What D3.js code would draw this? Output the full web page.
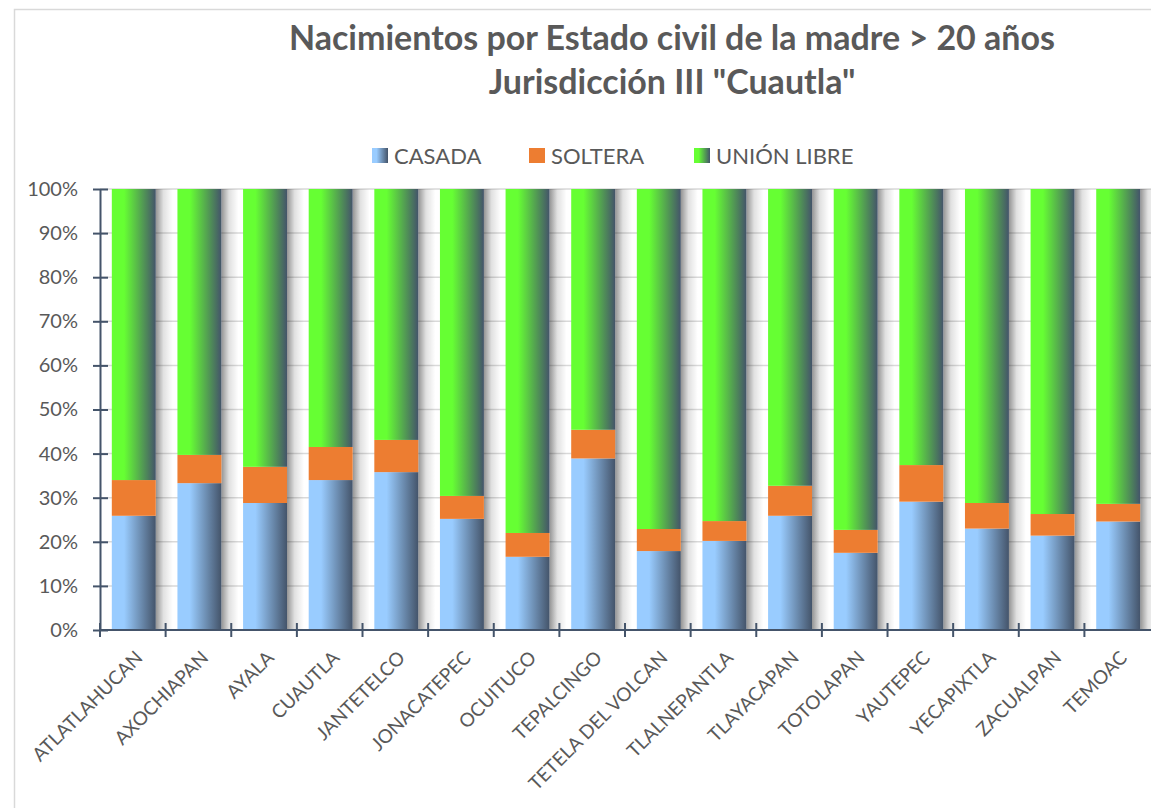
<!DOCTYPE html>
<html>
<head>
<meta charset="utf-8">
<script src="https://cdn.jsdelivr.net/npm/d3@7"></script>
<style>
	body { margin: 0; background: #fff; }
	text { font-family: Lato, "Open Sans", sans-serif; fill: #595959; }
</style>
</head>
<body>
<svg id="chart"></svg>
<script>
const W = 1151;
const H = 808;

// municipios de la Jurisdiccion III
const municipios = ["ATLATLAHUCAN", "AXOCHIAPAN", "AYALA", "CUAUTLA", "JANTETELCO", "JONACATEPEC", "OCUITUCO",
	"TEPALCINGO", "TETELA DEL VOLCAN", "TLALNEPANTLA", "TLAYACAPAN", "TOTOLAPAN", "YAUTEPEC", "YECAPIXTLA",
	"ZACUALPAN", "TEMOAC"];
// porcentajes
const casada     = [25.9, 33.3, 28.8, 34.0, 35.8, 25.2, 16.6, 38.9, 17.9, 20.2, 25.9, 17.5, 29.1, 23.0, 21.4, 24.6];
const soltera    = [ 8.1,  6.4,  8.2,  7.5,  7.3,  5.2,  5.4,  6.5,  5.0,  4.5,  6.8,  5.2,  8.3,  5.8,  4.9,  4.0];
const unionLibre = [66.0, 60.3, 63.0, 58.5, 56.9, 69.6, 78.0, 54.6, 77.1, 75.3, 67.3, 77.3, 62.6, 71.2, 73.7, 71.4];
const serieNombres = ["CASADA", "SOLTERA", "UNIÓN LIBRE"];
const yTicks = [0, 0.1, 0.2, 0.3, 0.4, 0.5, 0.6, 0.7, 0.8, 0.9, 1];
const titulo = ["Nacimientos por Estado civil de la madre > 20 años", "Jurisdicción III \"Cuautla\""];

const margin = { left: 100, right: -1, top: 189, bottom: 178 };
const axisColor = "#44546a";

let svg = d3.select( "#chart" ).attr( "width", W ).attr( "height", H );

// gradientes estilo excel
let defs = svg.append( "defs" );
function gradiente(id, c1, c2) {
	let g = defs.append( "linearGradient" ).attr( "id", id ).attr( "x1", 0 ).attr( "x2", 1 ).attr( "y1", 0 ).attr( "y2", 0 );
	g.append( "stop" ).attr( "offset", 0 ).attr( "stop-color", c1 );
	g.append( "stop" ).attr( "offset", 0.28 ).attr( "stop-color", c1 );
	g.append( "stop" ).attr( "offset", 1 ).attr( "stop-color", c2 );
}
gradiente( "gCasada", "#99ccff", axisColor );
gradiente( "gUnion", "#66ff33", axisColor );
let sg = defs.append( "linearGradient" ).attr( "id", "gSombra" ).attr( "x1", 0 ).attr( "x2", 1 );
sg.append( "stop" ).attr( "offset", 0 ).attr( "stop-color", "#000" ).attr( "stop-opacity", 0.42 );
sg.append( "stop" ).attr( "offset", 0.45 ).attr( "stop-color", "#000" ).attr( "stop-opacity", 0.12 );
sg.append( "stop" ).attr( "offset", 1 ).attr( "stop-color", "#000" ).attr( "stop-opacity", 0 );
const fills = ["url(#gCasada)", "#ed7d31", "url(#gUnion)"];

// marco del area de grafico
svg.append( "rect" )
	.attr( "x", 14.5 ).attr( "y", 9.5 ).attr( "width", W ).attr( "height", H )
	.attr( "fill", "none" ).attr( "stroke", "#d9d9d9" ).attr( "stroke-width", 1.5 );

// titulo
svg.selectAll( "text.titulo" ).data( titulo ).enter().append( "text" )
	.attr( "class", "titulo" )
	.attr( "x", 672 )
	.attr( "y", (d, i) => 50 + i * 44 )
	.attr( "text-anchor", "middle" )
	.style( "font-size", "34px" )
	.style( "font-weight", "bold" )
	.text( d => d );

let x = d3.scaleBand().domain( municipios ).range( [margin.left, W - margin.right] ).paddingInner( 0.33 ).paddingOuter( 0.18 );
let y = d3.scaleLinear().domain( [0, 1] ).range( [H - margin.bottom, margin.top] );

let tabla = municipios.map( (m, i) => ({ municipio: m, c: casada[i], s: soltera[i], u: unionLibre[i] }) );
let series = d3.stack().keys( ["c", "s", "u"] ).offset( d3.stackOffsetExpand )( tabla );

// lineas de division
svg.append( "g" ).selectAll( "line" ).data( yTicks.slice(1) ).enter().append( "line" )
	.attr( "x1", margin.left ).attr( "x2", W )
	.attr( "y1", d => y(d) ).attr( "y2", d => y(d) )
	.attr( "stroke", "#d9d9d9" ).attr( "stroke-width", 1.5 );

// sombras de las barras
svg.append( "g" ).selectAll( "rect" ).data( municipios ).enter().append( "rect" )
	.attr( "x", d => x(d) + x.bandwidth() )
	.attr( "y", y(1) )
	.attr( "width", 17 )
	.attr( "height", y(0) - y(1) )
	.attr( "fill", "url(#gSombra)" );

// barras apiladas
svg.append( "g" ).selectAll( "g" ).data( series ).enter().append( "g" )
	.attr( "fill", (d, i) => fills[i] )
	.selectAll( "rect" ).data( d => d ).enter().append( "rect" )
		.attr( "x", d => x(d.data.municipio) )
		.attr( "y", d => y(d[1]) )
		.attr( "width", x.bandwidth() )
		.attr( "height", d => y(d[0]) - y(d[1]) );

// eje y
let ejeY = svg.append( "g" ).attr( "transform", "translate(" + margin.left + ",0)" )
	.call( d3.axisLeft( y ).tickValues( yTicks ).tickFormat( d3.format( ".0%" ) ).tickSize( 0 ).tickPadding( 22 ) );
ejeY.select( ".domain" ).attr( "stroke", axisColor ).attr( "stroke-width", 2 );
ejeY.selectAll( ".tick line" ).attr( "x1", -7 ).attr( "x2", 8 ).attr( "stroke", axisColor ).attr( "stroke-width", 2 );
ejeY.selectAll( ".tick text" ).style( "font-size", "20px" ).attr( "fill", "#595959" );

// eje x con marcas entre categorias
let ejeX = svg.append( "g" ).attr( "transform", "translate(0," + y(0) + ")" );
ejeX.append( "line" ).attr( "x1", margin.left ).attr( "x2", W ).attr( "stroke", axisColor ).attr( "stroke-width", 2 );
ejeX.selectAll( "line.tick" ).data( municipios ).enter().append( "line" )
	.attr( "class", "tick" )
	.attr( "x1", d => x(d) - x.step() * x.paddingOuter() ).attr( "x2", d => x(d) - x.step() * x.paddingOuter() )
	.attr( "y1", -7 ).attr( "y2", 7 )
	.attr( "stroke", axisColor ).attr( "stroke-width", 2 );
ejeX.selectAll( "text" ).data( municipios ).enter().append( "text" )
	.attr( "transform", d => "translate(" + (x(d) + x.bandwidth() / 2 + 10) + ",29) rotate(-45)" )
	.attr( "text-anchor", "end" )
	.style( "font-size", "19px" )
	.text( d => d );

// leyenda
let leyenda = svg.append( "g" ).selectAll( "g" ).data( serieNombres ).enter().append( "g" )
	.attr( "transform", (d, i) => "translate(" + [372, 529, 694][i] + ",148)" );
leyenda.append( "rect" ).attr( "width", 16 ).attr( "height", 15 ).attr( "fill", (d, i) => fills[i] );
leyenda.append( "text" ).attr( "x", 22 ).attr( "y", 15.5 ).style( "font-size", "22px" ).text( d => d );
</script>
</body>
</html>
